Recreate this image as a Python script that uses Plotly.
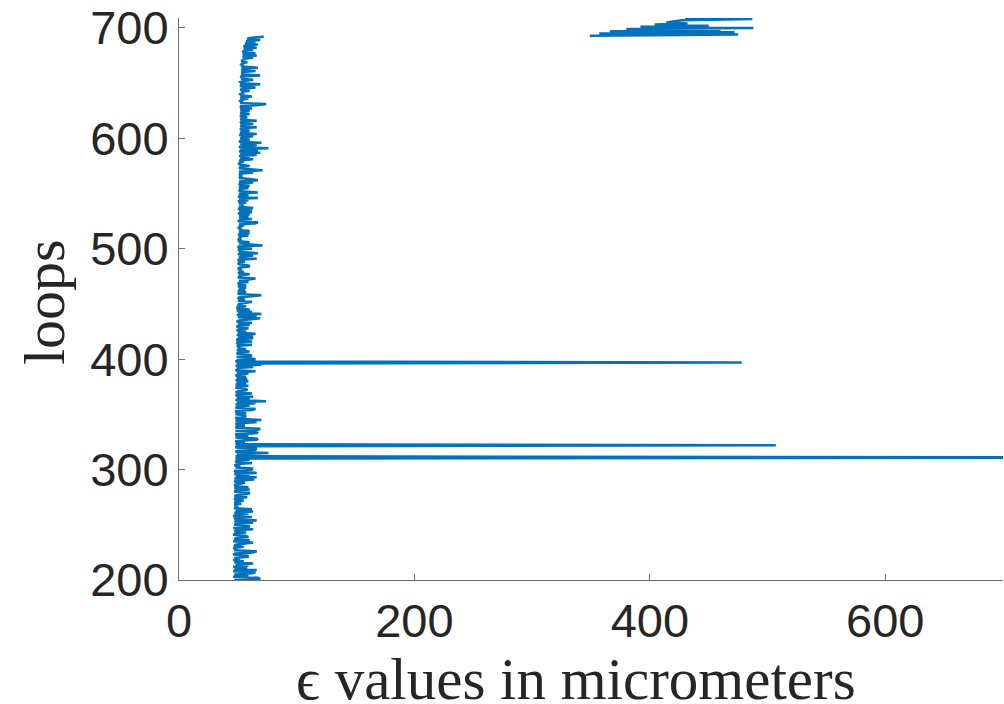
import plotly.graph_objects as go

# loop indices 200..692 (main column) and epsilon values
col_start = 200
col_eps = [
    47, 69, 67, 46, 59, 47, 62, 65, 46, 66,
    47, 58, 46, 59, 48, 63, 47, 55, 46, 52,
    47, 59, 58, 46, 48, 63, 66, 47, 50, 46,
    55, 47, 48, 59, 63, 46, 60, 47, 49, 59,
    56, 46, 48, 57, 47, 49, 63, 46, 60, 59,
    47, 49, 63, 47, 66, 48, 47, 62, 46, 50,
    59, 47, 63, 48, 62, 47, 49, 50, 47, 53,
    47, 49, 55, 47, 48, 58, 47, 50, 59, 60,
    47, 49, 60, 47, 59, 48, 47, 52, 56, 47,
    49, 64, 47, 66, 48, 60, 47, 66, 48, 47,
    62, 62, 48, 52, 47, 50, 62, 48, 49, 60,
    48, 850, 48, 62, 49, 76, 48, 50, 65, 66,
    48, 50, 507, 48, 56, 49, 48, 66, 67, 48,
    59, 49, 48, 66, 67, 48, 67, 69, 48, 50,
    56, 48, 50, 66, 48, 70, 49, 48, 57, 56,
    48, 57, 49, 48, 62, 65, 48, 50, 60, 48,
    65, 49, 74, 48, 60, 49, 63, 48, 50, 62,
    48, 51, 58, 57, 48, 50, 59, 48, 57, 49,
    59, 48, 58, 49, 57, 48, 50, 59, 49, 65,
    48, 51, 49, 63, 48, 70, 49, 478, 48, 50,
    65, 60, 49, 62, 59, 49, 51, 60, 49, 57,
    50, 52, 49, 62, 50, 49, 62, 50, 49, 63,
    50, 63, 49, 65, 50, 57, 49, 51, 59, 50,
    49, 60, 50, 62, 49, 51, 59, 69, 50, 66,
    49, 70, 50, 62, 49, 60, 50, 49, 57, 50,
    51, 59, 62, 50, 56, 50, 51, 62, 70, 50,
    51, 57, 50, 56, 51, 57, 50, 57, 51, 50,
    59, 51, 60, 65, 50, 52, 51, 60, 50, 55,
    51, 52, 50, 52, 60, 59, 51, 50, 56, 51,
    50, 66, 51, 53, 63, 50, 67, 51, 53, 50,
    62, 51, 50, 71, 60, 51, 60, 50, 53, 51,
    52, 51, 59, 50, 60, 51, 60, 51, 53, 50,
    52, 55, 51, 65, 67, 50, 52, 62, 51, 59,
    51, 60, 50, 62, 51, 62, 50, 63, 51, 53,
    55, 51, 57, 50, 59, 51, 67, 50, 59, 51,
    53, 67, 51, 52, 51, 59, 51, 60, 52, 51,
    63, 51, 67, 62, 51, 53, 52, 53, 51, 63,
    51, 71, 63, 51, 53, 60, 52, 51, 52, 55,
    51, 63, 52, 60, 51, 66, 52, 69, 51, 67,
    52, 76, 51, 53, 66, 52, 70, 51, 53, 60,
    52, 54, 63, 51, 66, 52, 54, 60, 52, 53,
    66, 52, 54, 63, 52, 53, 66, 52, 54, 58,
    52, 53, 60, 52, 54, 60, 52, 62, 53, 52,
    66, 74, 52, 54, 52, 53, 59, 52, 62, 53,
    52, 54, 53, 60, 52, 54, 65, 53, 52, 69,
    53, 52, 55, 63, 53, 54, 52, 69, 53, 55,
    53, 65, 53, 55, 67, 53, 54, 53, 55, 58,
    53, 54, 55, 63, 54, 66, 54, 65, 55, 54,
    63, 55, 66, 55, 56, 67, 56, 65, 57, 69,
    58, 60, 72,
]

# separate cluster at the top (loops 693..709)
top_start = 693
top_eps = [349, 475, 357, 472, 366, 460, 380, 488, 392, 450,
           404, 432, 414, 420, 427, 487, 430]

x_ticks = [0, 200, 400, 600]
y_ticks = [200, 300, 400, 500, 600, 700]

col_loops = list(range(col_start, col_start + len(col_eps)))
top_loops = list(range(top_start, top_start + len(top_eps)))

xs = col_eps + [None] + top_eps
ys = col_loops + [None] + top_loops

BLUE = "#0072BD"
AX = "#6e6e6e"
TXT = "#262626"

fig = go.Figure()
fig.add_trace(go.Scatter(x=xs, y=ys, mode="lines",
                         line=dict(color=BLUE, width=2.5),
                         connectgaps=False, showlegend=False,
                         hoverinfo="skip"))

tick_font = dict(family="Liberation Sans, Arial, sans-serif", size=47, color=TXT)

common_axis = dict(ticks="inside", ticklen=6, tickcolor=AX, showline=True,
                   linecolor=AX, linewidth=1, showgrid=False, zeroline=False,
                   tickfont=tick_font, mirror=False, ticklabeloverflow="allow")

fig.update_layout(
    width=1004, height=704,
    margin=dict(l=179, r=1, t=14, b=124),
    paper_bgcolor="white", plot_bgcolor="white",
    xaxis=dict(range=[0, 700], tickvals=x_ticks,
               ticktext=[str(v) for v in x_ticks], **common_axis),
    yaxis=dict(range=[200, 709], tickvals=y_ticks,
               ticktext=[str(v) for v in y_ticks], **common_axis),
    annotations=[
        dict(text="loops", textangle=-90, x=-0.1626, y=0.4947,
             xref="paper", yref="paper", xanchor="center", yanchor="middle",
             showarrow=False,
             font=dict(family="Liberation Serif, Times New Roman, serif", size=58, color=TXT)),
        dict(text="ϵ values in micrometers", x=0.4818, y=-0.176,
             xref="paper", yref="paper", xanchor="center", yanchor="middle",
             showarrow=False,
             font=dict(family="Liberation Serif, Times New Roman, serif", size=59, color=TXT)),
    ],
)

fig.write_html("out.html")
